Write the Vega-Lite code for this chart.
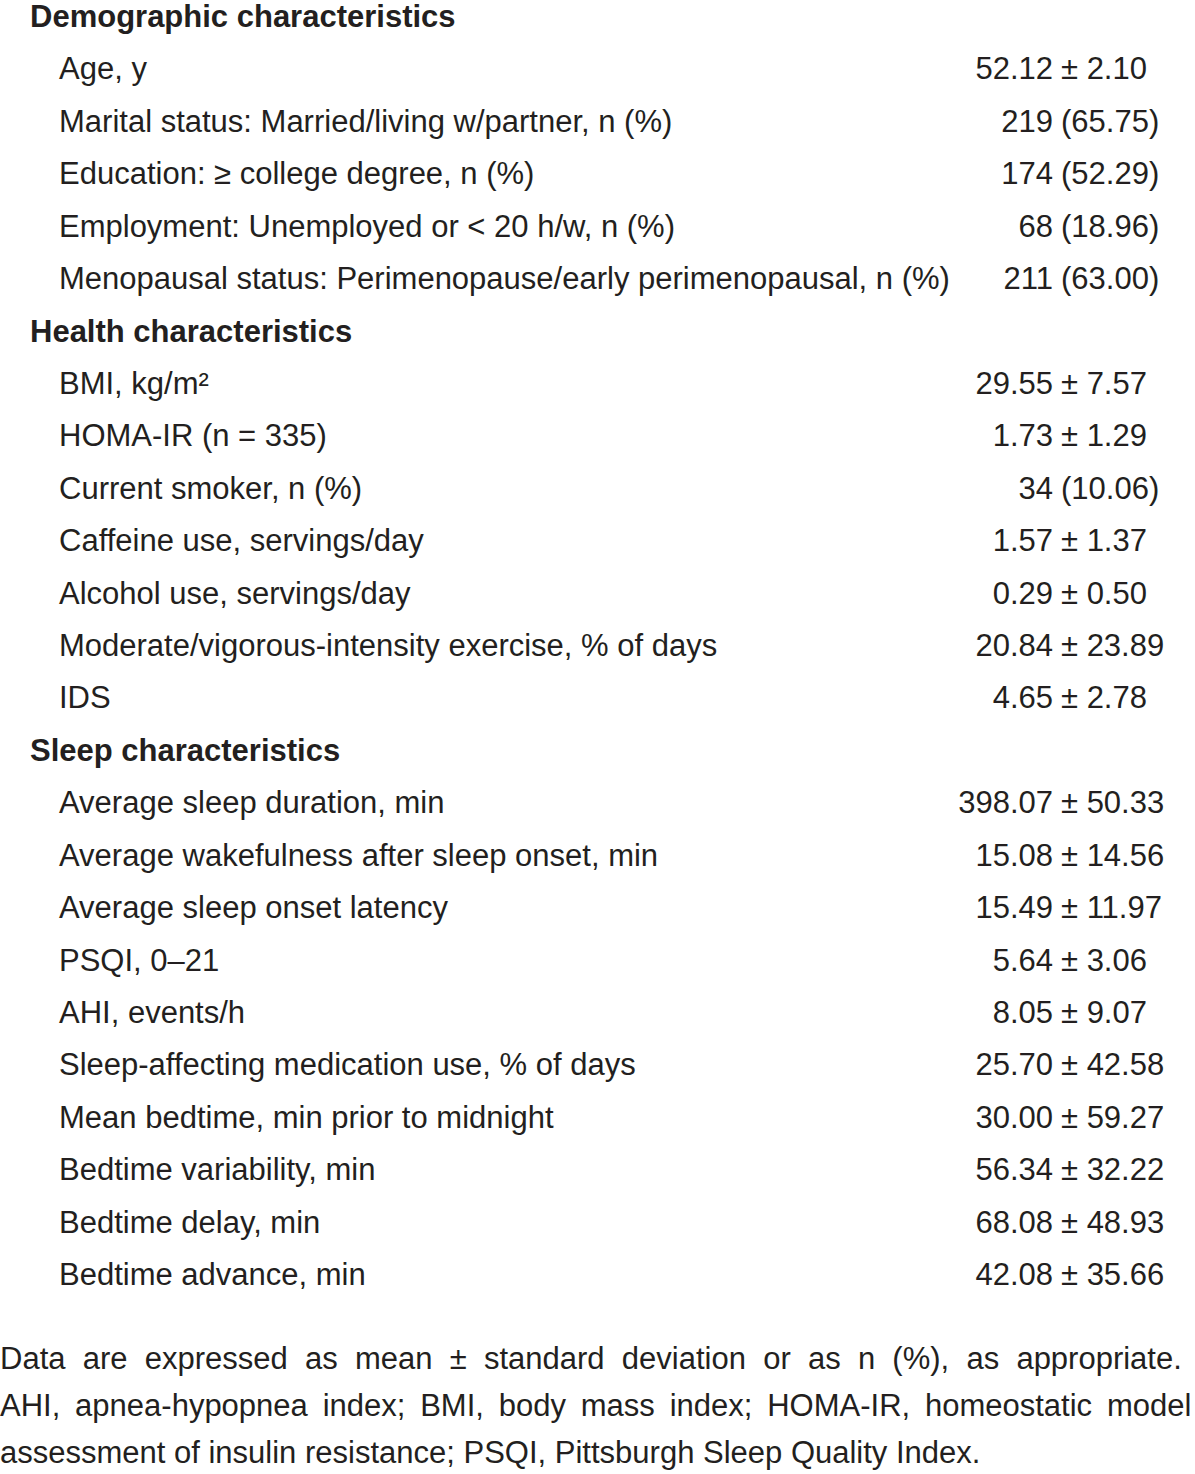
{
  "$schema": "https://vega.github.io/schema/vega-lite/v6.json",
  "padding": 0,
  "autosize": {"type": "none"},
  "width": 1195,
  "height": 1474,
  "background": "#ffffff",
  "config": {"view": {"stroke": null}},
  "resolve": {"scale": {"y": "independent"}},
  "datasets": {
    "rows": [
      {"row": 0, "level": "header", "label": "Demographic characteristics", "left": "", "right": ""},
      {"row": 1, "level": "item", "label": "Age, y", "left": "52.12", "right": "± 2.10"},
      {"row": 2, "level": "item", "label": "Marital status: Married/living w/partner, n (%)", "left": "219", "right": "(65.75)"},
      {"row": 3, "level": "item", "label": "Education: ≥ college degree, n (%)", "left": "174", "right": "(52.29)"},
      {"row": 4, "level": "item", "label": "Employment: Unemployed or < 20 h/w, n (%)", "left": "68", "right": "(18.96)"},
      {"row": 5, "level": "item", "label": "Menopausal status: Perimenopause/early perimenopausal, n (%)", "left": "211", "right": "(63.00)"},
      {"row": 6, "level": "header", "label": "Health characteristics", "left": "", "right": ""},
      {"row": 7, "level": "item", "label": "BMI, kg/m²", "left": "29.55", "right": "± 7.57"},
      {"row": 8, "level": "item", "label": "HOMA-IR (n = 335)", "left": "1.73", "right": "± 1.29"},
      {"row": 9, "level": "item", "label": "Current smoker, n (%)", "left": "34", "right": "(10.06)"},
      {"row": 10, "level": "item", "label": "Caffeine use, servings/day", "left": "1.57", "right": "± 1.37"},
      {"row": 11, "level": "item", "label": "Alcohol use, servings/day", "left": "0.29", "right": "± 0.50"},
      {"row": 12, "level": "item", "label": "Moderate/vigorous-intensity exercise, % of days", "left": "20.84", "right": "± 23.89"},
      {"row": 13, "level": "item", "label": "IDS", "left": "4.65", "right": "± 2.78"},
      {"row": 14, "level": "header", "label": "Sleep characteristics", "left": "", "right": ""},
      {"row": 15, "level": "item", "label": "Average sleep duration, min", "left": "398.07", "right": "± 50.33"},
      {"row": 16, "level": "item", "label": "Average wakefulness after sleep onset, min", "left": "15.08", "right": "± 14.56"},
      {"row": 17, "level": "item", "label": "Average sleep onset latency", "left": "15.49", "right": "± 11.97"},
      {"row": 18, "level": "item", "label": "PSQI, 0–21", "left": "5.64", "right": "± 3.06"},
      {"row": 19, "level": "item", "label": "AHI, events/h", "left": "8.05", "right": "± 9.07"},
      {"row": 20, "level": "item", "label": "Sleep-affecting medication use, % of days", "left": "25.70", "right": "± 42.58"},
      {"row": 21, "level": "item", "label": "Mean bedtime, min prior to midnight", "left": "30.00", "right": "± 59.27"},
      {"row": 22, "level": "item", "label": "Bedtime variability, min", "left": "56.34", "right": "± 32.22"},
      {"row": 23, "level": "item", "label": "Bedtime delay, min", "left": "68.08", "right": "± 48.93"},
      {"row": 24, "level": "item", "label": "Bedtime advance, min", "left": "42.08", "right": "± 35.66"}
    ],
    "notes": [
      {"line": 0, "text": "Data \u00a0are \u00a0expressed \u00a0as \u00a0mean \u00a0± \u00a0standard \u00a0deviation \u00a0or \u00a0as \u00a0n \u00a0(%), \u00a0as \u00a0appropriate."},
      {"line": 1, "text": "AHI, \u2009apnea-hypopnea \u2009index; \u2009BMI, \u2009body \u2009mass \u2009index; \u2009HOMA-IR, \u2009homeostatic \u2009model"},
      {"line": 2, "text": "assessment of insulin resistance; PSQI, Pittsburgh Sleep Quality Index."}
    ]
  },
  "layer": [
    {
      "data": {"name": "rows"},
      "layer": [
        {
          "transform": [{"filter": "datum.level == 'header'"}],
          "mark": {"type": "text", "align": "left", "baseline": "middle", "fontSize": 31, "fontWeight": "bold", "font": "Liberation Sans", "fill": "#231f20", "x": 30},
          "encoding": {
            "y": {"field": "row", "type": "quantitative", "axis": null,
                  "scale": {"domain": [-0.3434, 27.776], "reverse": true, "nice": false, "zero": false}},
            "text": {"field": "label"}
          }
        },
        {
          "transform": [{"filter": "datum.level == 'item'"}],
          "mark": {"type": "text", "align": "left", "baseline": "middle", "fontSize": 31, "font": "Liberation Sans", "fill": "#231f20", "x": 59},
          "encoding": {
            "y": {"field": "row", "type": "quantitative"},
            "text": {"field": "label"}
          }
        },
        {
          "mark": {"type": "text", "align": "right", "baseline": "middle", "fontSize": 31, "font": "Liberation Sans", "fill": "#231f20", "x": 1053},
          "encoding": {
            "y": {"field": "row", "type": "quantitative"},
            "text": {"field": "left"}
          }
        },
        {
          "mark": {"type": "text", "align": "left", "baseline": "middle", "fontSize": 31, "font": "Liberation Sans", "fill": "#231f20", "x": 1061},
          "encoding": {
            "y": {"field": "row", "type": "quantitative"},
            "text": {"field": "right"}
          }
        }
      ]
    },
    {
      "data": {"name": "notes"},
      "mark": {"type": "text", "align": "left", "baseline": "middle", "fontSize": 31, "font": "Liberation Sans", "fill": "#231f20", "x": 0},
      "encoding": {
        "y": {"field": "line", "type": "quantitative", "axis": null,
              "scale": {"domain": [-28.936, 2.4255], "reverse": true, "nice": false, "zero": false}},
        "text": {"field": "text"}
      }
    }
  ]
}
